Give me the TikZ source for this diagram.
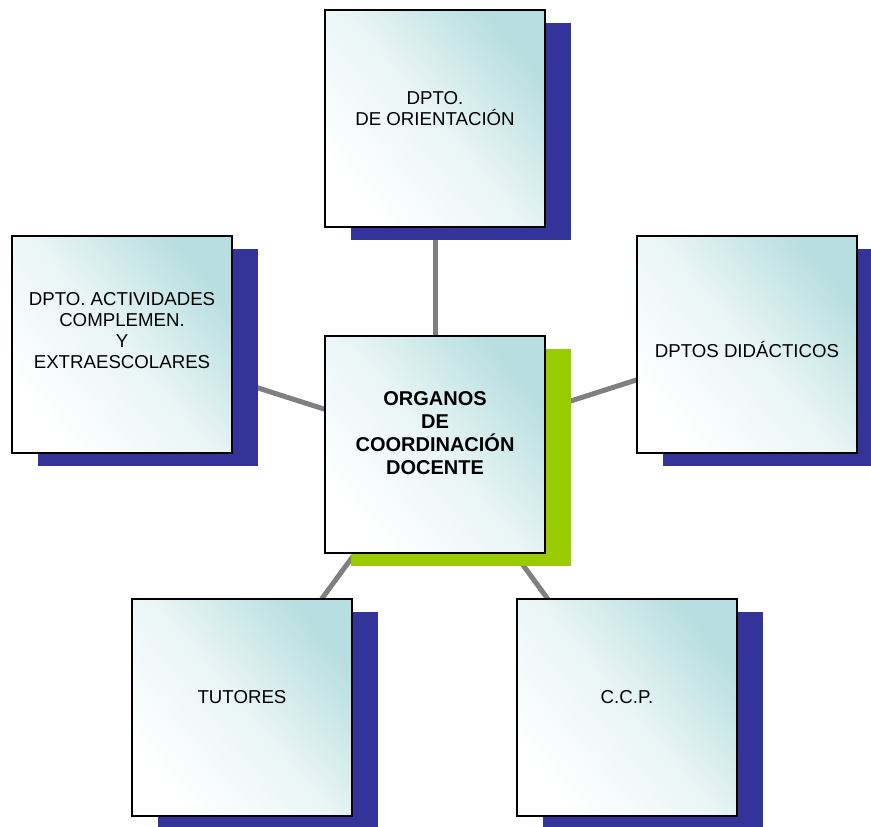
\documentclass[tikz,border=0pt]{standalone}
\usepackage{fontspec}
\setmainfont{Liberation Sans}
\usetikzlibrary{positioning,shadows,backgrounds}
\definecolor{boxteal}{RGB}{183,222,224}
\definecolor{shadowblue}{RGB}{51,51,153}
\definecolor{shadowgreen}{RGB}{153,204,0}
\definecolor{linkgray}{RGB}{128,128,128}
\tikzset{
    unit/.style = {rectangle, draw=black, line width=1.1pt, minimum width=165pt, minimum height=162.75pt, inner sep=0pt,
        top color=boxteal, bottom color=white, middle color=boxteal!30, shading angle=-50},
    blueshadow/.style = {general shadow={shadow xshift=19.5pt, shadow yshift=-9.75pt, fill=shadowblue}},
    greenshadow/.style = {general shadow={shadow xshift=19.5pt, shadow yshift=-9.75pt, fill=shadowgreen}},
    caption/.style = {align=center, font=\fontsize{14pt}{15.75pt}\selectfont, yshift=7.5pt},
    link/.style = {draw=linkgray, line width=3.75pt}
}

\begin{document}
\begin{tikzpicture}[x=0.75pt, y=-0.75pt]
\useasboundingbox (0,0) rectangle (871,827);
\node[unit, greenshadow, label={[caption, yshift=0.75pt, font=\bfseries\fontsize{15pt}{17.25pt}\selectfont]center:ORGANOS\\DE\\COORDINACIÓN\\DOCENTE}] (coord) at (435,444.5) {};
\node[unit, blueshadow, label={[caption]center:DPTO.\\DE ORIENTACIÓN}] (orient) at (435,118.5) {};
\node[unit, blueshadow, label={[caption, yshift=3pt]center:DPTO. ACTIVIDADES\\COMPLEMEN.\\Y\\EXTRAESCOLARES}] (activ) at (122,344.5) {};
\node[unit, blueshadow, label={[caption, yshift=-11.25pt]center:DPTOS DIDÁCTICOS}] (didac) at (747,344.5) {};
\node[unit, blueshadow, label={[caption]center:TUTORES}] (tutor) at (242,707.5) {};
\node[unit, blueshadow, label={[caption]center:C.C.P.}] (ccp) at (627,707.5) {};
% links behind the boxes
\begin{scope}[on background layer]
\draw[link] (coord.center) -- (orient.center);
\draw[link] (coord.center) -- (activ.center);
\draw[link] (coord.center) -- (didac.center);
\draw[link] (coord.center) -- (tutor.center);
\draw[link] (coord.center) -- (ccp.center);
\end{scope}
\end{tikzpicture}
\end{document}
